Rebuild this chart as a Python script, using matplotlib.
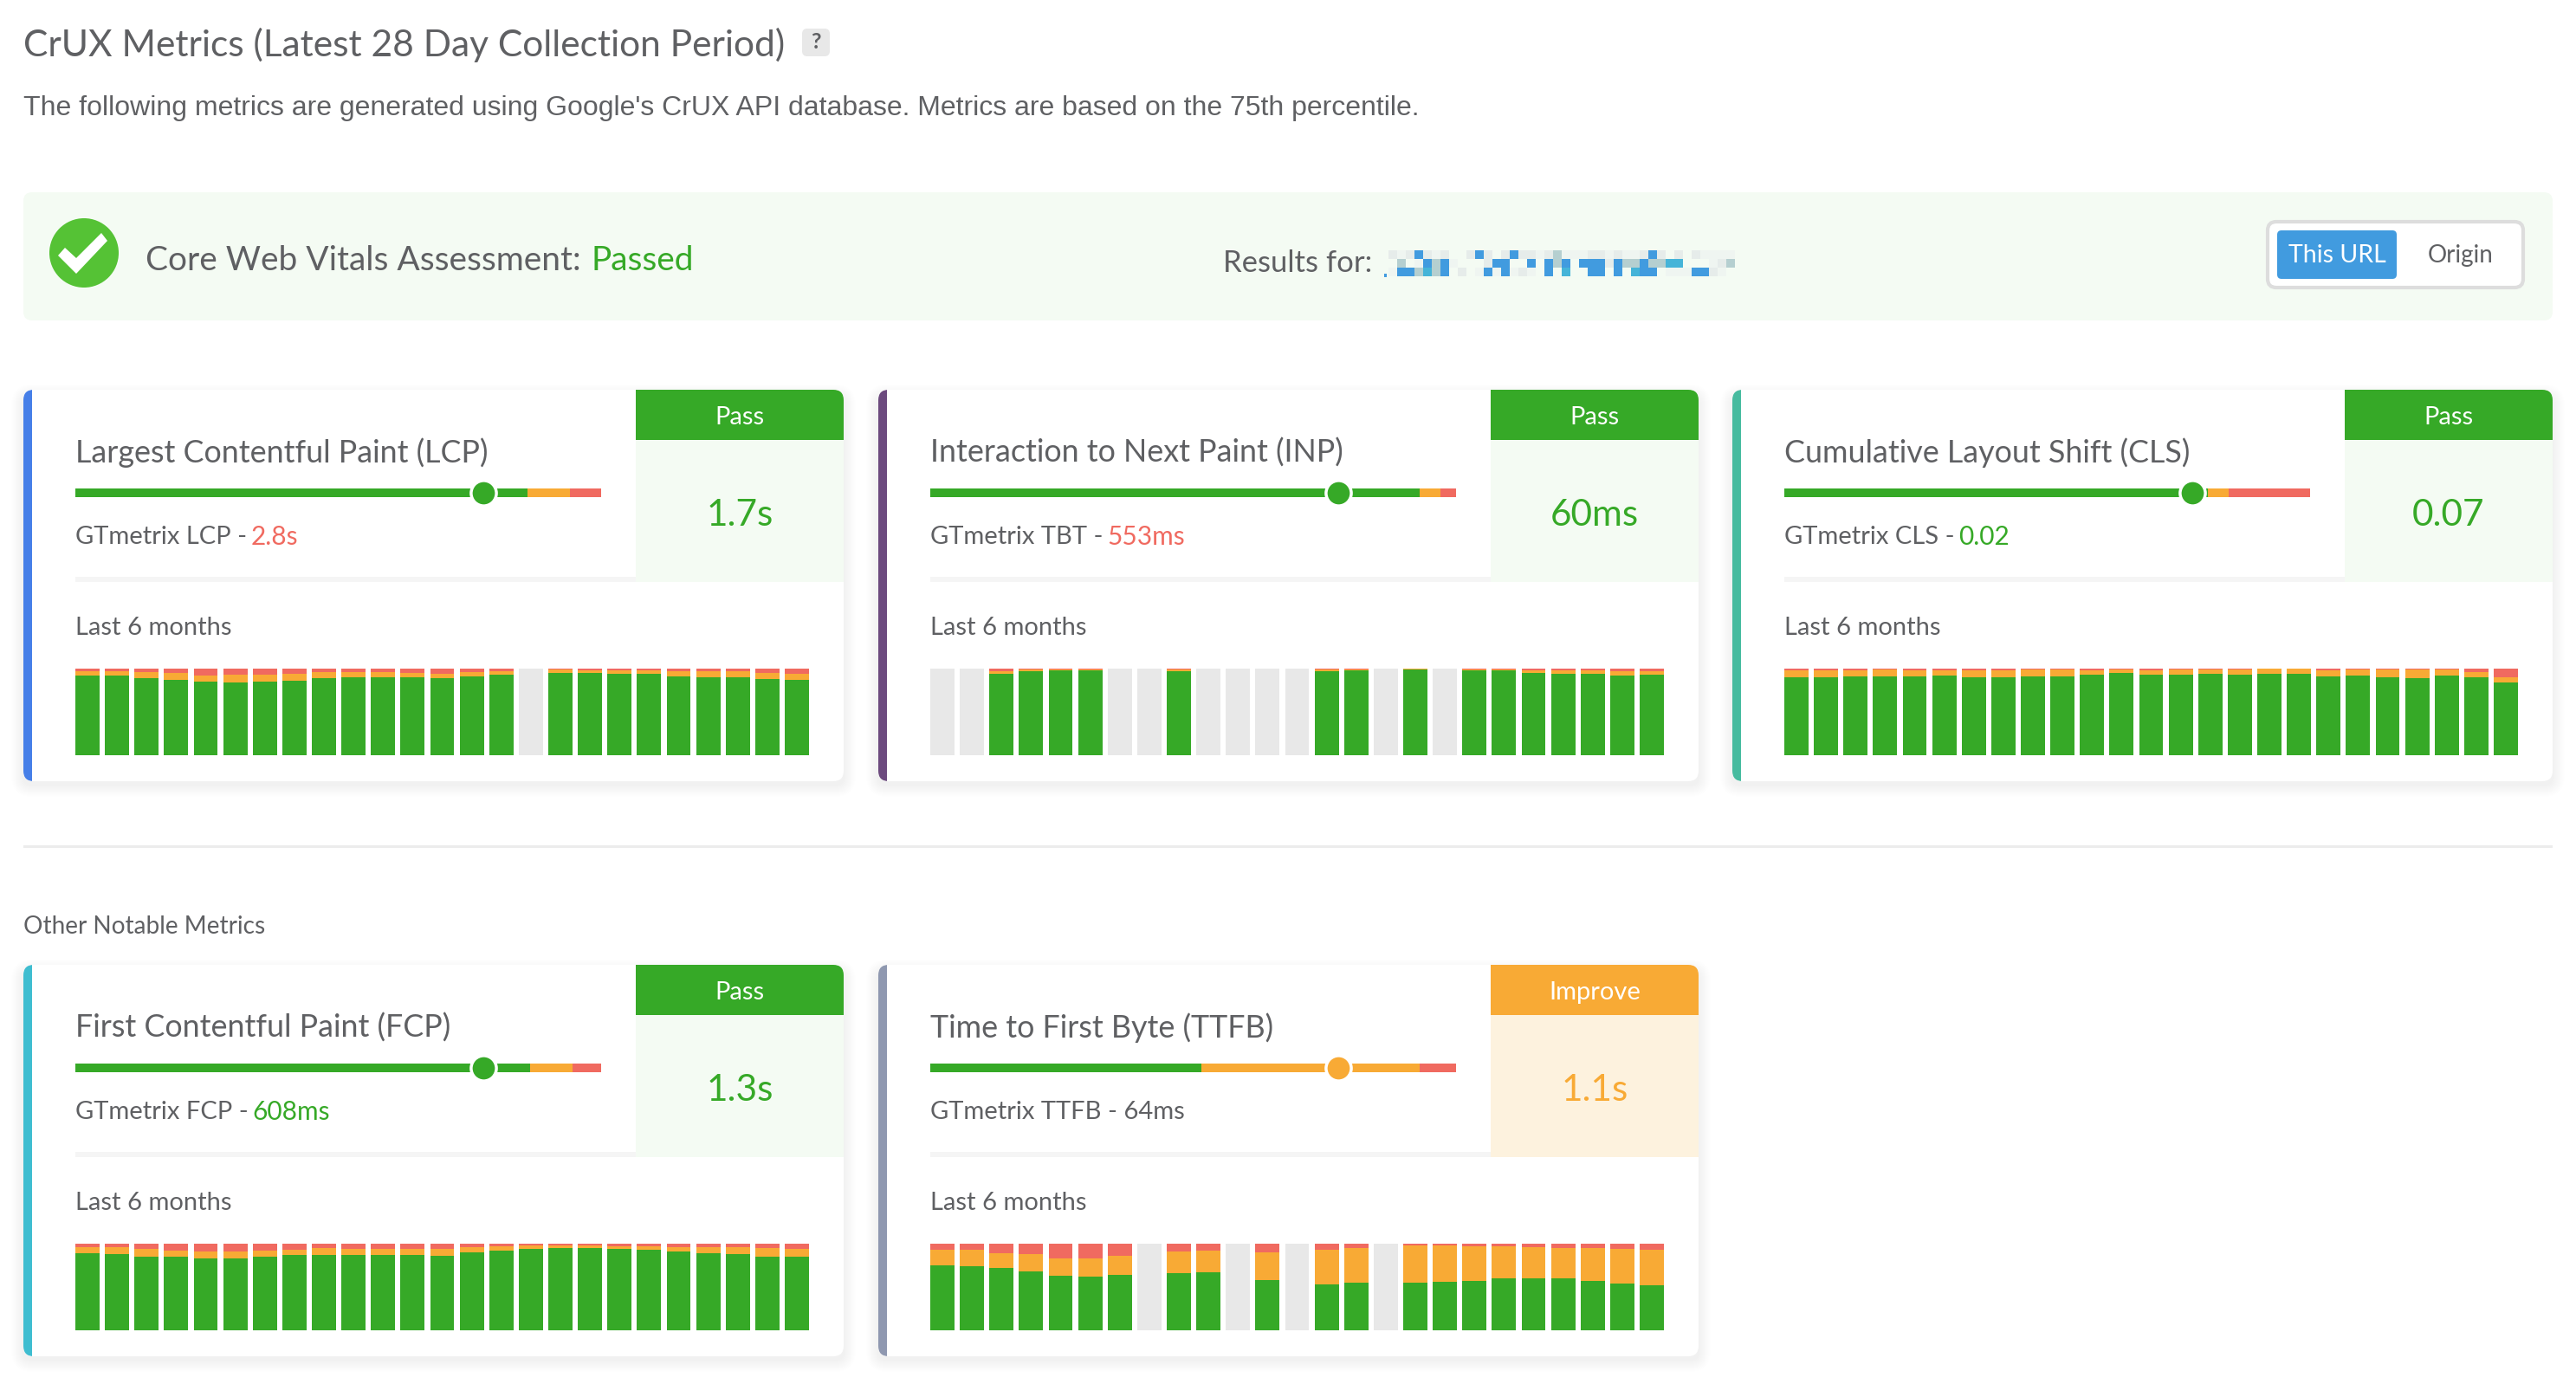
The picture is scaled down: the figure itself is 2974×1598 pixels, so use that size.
import matplotlib
matplotlib.use("Agg")
import matplotlib.pyplot as plt
from matplotlib.patches import Rectangle, FancyBboxPatch, Circle, Polygon

W, H = 2974, 1598
GREEN, ORANGE, RED, GRAY = "#36a927", "#f8aa35", "#f06a60", "#e8e8e8"
TXT = "#5f6063"
FONT = "Lato"
plt.rcParams["font.family"] = [FONT, "DejaVu Sans"]

# (poor, needs improvement, good) percent per period; None = no data
lcp_red = [3,3,4,5,8,7,7,6,4,4,4,5,6,4,3,None,1,2,2,2,3,3,3,5,6]
lcp_org = [5,5,7,8,7,9,8,8,7,6,6,5,5,5,4,None,4,3,4,4,6,7,7,7,7]
inp_red = [None,None,3,1,1,1,None,None,1,None,None,None,None,1,1,None,0,None,1,1,2,2,2,3,3]
inp_org = [None,None,3,2,1,1,None,None,2,None,None,None,None,2,1,None,1,None,1,1,3,4,4,5,4]
cls_red = [2,2,2,1,2,2,2,2,1,1,2,1,2,1,1,1,0,0,2,1,1,1,1,4,10]
cls_org = [8,8,7,8,7,6,8,8,8,8,5,4,5,6,5,6,6,6,7,7,9,10,7,6,6]
fcp_red = [4,4,6,8,9,9,8,7,5,6,6,6,6,4,3,2,2,2,3,3,4,4,4,5,6]
fcp_org = [7,8,9,7,8,8,7,6,8,7,7,7,8,6,5,4,3,3,3,4,5,7,8,10,9]
ttfb_red = [7,7,11,12,17,17,14,None,9,8,None,10,None,7,5,None,2,2,3,3,4,5,5,6,7]
ttfb_org = [18,19,17,20,20,21,22,None,25,25,None,32,None,40,40,None,43,42,40,37,36,35,38,40,41]

titles = ["Largest Contentful Paint (LCP)", "Interaction to Next Paint (INP)",
          "Cumulative Layout Shift (CLS)", "First Contentful Paint (FCP)", "Time to First Byte (TTFB)"]
stripes = ["#467fe8", "#6c4a7e", "#47bb9f", "#3fbdd0", "#8f98b0"]
status = ["Pass", "Pass", "Pass", "Pass", "Improve"]
values = ["1.7s", "60ms", "0.07", "1.3s", "1.1s"]
gt_labels = ["GTmetrix LCP - ", "GTmetrix TBT - ", "GTmetrix CLS - ", "GTmetrix FCP - ", "GTmetrix TTFB - 64ms"]
gt_values = ["2.8s", "553ms", "0.02", "608ms", ""]
gt_colors = [RED, RED, GREEN, GREEN, TXT]
red_series = [lcp_red, inp_red, cls_red, fcp_red, ttfb_red]
org_series = [lcp_org, inp_org, cls_org, fcp_org, ttfb_org]
# slider thresholds (percent of track)
slider_good = [86, 93, 80.5, 86.5, 51.5]
slider_ni = [94, 97, 84.5, 94.5, 93]
slider_marker = 77.6

card_x = [27, 1014, 2000, 27, 1014]
card_y = [450, 450, 450, 1114, 1114]
CW, CH = 947, 452

fig = plt.figure(figsize=(W/100, H/100), dpi=100, facecolor="white")
bg = fig.add_axes([0, 0, 1, 1])
bg.set_xlim(0, W); bg.set_ylim(H, 0); bg.axis("off")

def rrect(ax, x, y, w, h, r, **kw):
    p = FancyBboxPatch((x+r, y+r), w-2*r, h-2*r, boxstyle=f"round,pad={r},rounding_size={r}", linewidth=kw.pop("lw", 0), **kw)
    ax.add_patch(p)
    return p

def label(x, y, s, size, color=TXT, ha="left", family=FONT, **kw):
    return bg.text(x, y, s, fontsize=size, color=color, ha=ha, va="center", family=family, **kw)

# header
label(27, 52, "CrUX Metrics (Latest 28 Day Collection Period)", 30.6)
rrect(bg, 926, 33, 32, 32, 6, facecolor=GRAY)
label(942, 49, "?", 18, ha="center", fontweight="bold")
label(27, 125, "The following metrics are generated using Google's CrUX API database. Metrics are based on the 75th percentile.", 23.0, family="Liberation Sans")

# banner
rrect(bg, 27, 222, 2920, 148, 10, facecolor="#f4fbf3")
bg.add_patch(Circle((97, 292), 40, facecolor="#55c235", lw=0))
bg.add_patch(Polygon([(67,295),(75,286),(88,298),(117,269),(124,278),(88,316)], facecolor="white", lw=0))
label(168, 301, "Core Web Vitals Assessment:", 28)
label(683, 301, "Passed", 28, color=GREEN)
label(1412, 304, "Results for:", 25)
# pixelated url
blur_row1 = "lflblfl..lbl.lbllflgfffllflfflbl.l.lffff"
blur_row2 = ".g.fbgbf...lbb..b.bgb.bbblbggbggtt...flg"
blur_row3 = "fbbgtgb.l.fbfbflf.b.t..bb.b.tbb.fffbblf."
pal = {"b": "#419bdf", "l": "#e6ecea", "g": "#b5cfd0", "t": "#45b4d8", "f": "#eff5f1", ".": None}
for row, top in zip([blur_row1, blur_row2, blur_row3], [289, 299, 309]):
    for n, c in enumerate(row):
        if pal[c]:
            bg.add_patch(Rectangle((1603 + 10*n, top), 10, 10, facecolor=pal[c], lw=0))
bg.add_patch(Rectangle((1598, 316), 3, 4, facecolor="#419bdf", lw=0))
# toggle
rrect(bg, 2618, 256, 295, 76, 10, facecolor="white", edgecolor="#dddddd", lw=3)
rrect(bg, 2629, 266, 138, 56, 5, facecolor="#419bdf")
label(2698, 295, "This URL", 20.5, color="white", ha="center")
label(2841, 295, "Origin", 20, ha="center")

# divider
bg.add_patch(Rectangle((27, 976), 2920, 3, facecolor="#ececec", lw=0))
label(27, 1070, "Other Notable Metrics", 20.2)

# cards
for i in range(5):
    x, y = card_x[i], card_y[i]
    for k in range(14, 0, -1):
        rrect(bg, x-k, y-k+8, CW+2*k, CH+2*k-4, 10+k, facecolor="#000000", alpha=0.0045)
    clip = rrect(bg, x, y, CW, CH, 12, facecolor="white")
    s = Rectangle((x, y), 10, CH, facecolor=stripes[i], lw=0); bg.add_patch(s); s.set_clip_path(clip)
    hx = x + 707
    col = GREEN if status[i] == "Pass" else ORANGE
    h = Rectangle((hx, y), 240, 58, facecolor=col, lw=0); bg.add_patch(h); h.set_clip_path(clip)
    bg.add_patch(Rectangle((hx, y+58), 240, 164, facecolor="#f4fbf3" if status[i] == "Pass" else "#fdf2de", lw=0))
    bg.add_patch(Rectangle((x+60, y+216), 647, 6, facecolor="#f5f5f5", lw=0))
    label(hx+120, y+32, status[i], 21, color="white", ha="center")
    label(hx+120, y+145, values[i], 30.5, color=col, ha="center")
    label(x+60, y+73, titles[i], 25.8)
    t = label(x+60, y+170, gt_labels[i], 21)
    if gt_values[i]:
        fig.canvas.draw()
        bb = t.get_window_extent()
        label(bb.x1 - 3, y+170, gt_values[i], 21.5, color=gt_colors[i])
    label(x+60, y+275, "Last 6 months", 21)

    # slider
    sa = fig.add_axes([(x+60)/W, 1-(y+124)/H, 607/W, 10/H])
    sa.set_xlim(0, 100); sa.set_ylim(0, 1); sa.axis("off")
    sa.barh(0.5, slider_good[i], 1, color=GREEN)
    sa.barh(0.5, slider_ni[i]-slider_good[i], 1, left=slider_good[i], color=ORANGE)
    sa.barh(0.5, 100-slider_ni[i], 1, left=slider_ni[i], color=RED)
    sa.plot([slider_marker], [0.5], "o", ms=21, mfc=col, mec="white", mew=2.5, clip_on=False)

    # history bars
    ba = fig.add_axes([(x+60)/W, 1-(y+422)/H, 847/W, 100/H])
    ba.set_xlim(-0.5+0.09, 24.5-0.09); ba.set_ylim(0, 100); ba.axis("off")
    for n, (r, o) in enumerate(zip(red_series[i], org_series[i])):
        if r is None:
            ba.bar(n, 100, 0.82, color=GRAY)
        else:
            g = 100-r-o
            ba.bar(n, g, 0.82, color=GREEN)
            ba.bar(n, o, 0.82, bottom=g, color=ORANGE)
            ba.bar(n, r, 0.82, bottom=g+o, color=RED)

fig.savefig("out.png", dpi=100, facecolor="white")
